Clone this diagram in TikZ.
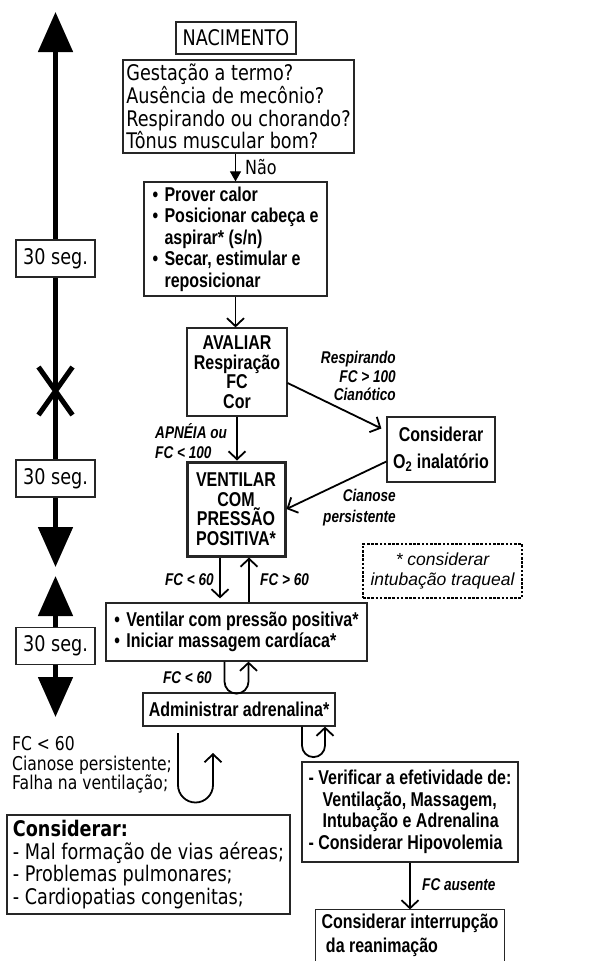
\documentclass[tikz,border=0pt]{standalone}
\usepackage{fontspec}
\newfontfamily\simples[FakeStretch=0.82]{DejaVu Sans}
\newfontfamily\estreita[FakeStretch=0.8]{Liberation Sans}
\newfontfamily\arial{Liberation Sans}
\usetikzlibrary{arrows.meta, positioning, calc}
\newcommand{\marca}{\makebox[12pt][l]{\textbullet}}
\newcommand{\recuo}{\hspace*{12pt}}
\tikzset{
  caixa/.style  = {draw=black!85, line width=1.2pt, inner sep=0pt, align=center,
                   font={\simples\fontsize{21.5}{22.7}\selectfont}},
  acao/.style   = {draw=black!85, line width=1.2pt, inner sep=0pt, align=center,
                   font={\estreita\bfseries\fontsize{20}{21.5}\selectfont}},
  rotulo/.style = {inner sep=0pt, font={\estreita\bfseries\itshape\fontsize{17}{18.5}\selectfont}},
  tempo/.style  = {caixa, fill=white, minimum width=79pt, minimum height=37pt},
  seta/.style   = {-{Straight Barb[length=8pt, width=17pt]}, line width=1.8pt},
  linhatempo/.style = {line width=5pt},
  pontaT/.style = {-{Triangle[length=40pt, width=34pt]}, line width=5pt},
}

\begin{document}
\begin{tikzpicture}[x=1pt, y=-1pt]
\useasboundingbox (0,0) rectangle (593,962);

%% ── main column ─────────────────────────────────────────────────────────────
\node[caixa, minimum width=120pt, minimum height=32pt] (nasc) at (236,38) {NACIMENTO};
\node[caixa, minimum width=231pt, minimum height=93pt, align=left] (quest) at (238.5,106.5)
  {Gestação a termo?\\Ausência de mecônio?\\Respirando ou chorando?\\Tônus muscular bom?};
\node[acao, minimum width=183pt, minimum height=114pt, align=left] (passos) at (235.5,239)
  {\marca Prover calor\\\marca Posicionar cabeça e\\\recuo aspirar* (s/n)\\\marca Secar, estimular e\\\recuo reposicionar};
\node[acao, minimum width=100pt, minimum height=88pt,
      font={\estreita\bfseries\fontsize{20}{19.5}\selectfont}] (avaliar) at (237,372)
  {AVALIAR\\Respiração\\FC\\Cor};
\node[acao, line width=3pt, minimum width=98pt, minimum height=94pt,
      font={\estreita\bfseries\fontsize{20}{19.5}\selectfont}] (ventilar) at (236,509)
  {VENTILAR\\COM\\PRESSÃO\\POSITIVA*};
\node[acao, minimum width=261pt, minimum height=58pt, align=left] (massagem) at (236.5,632)
  {\marca Ventilar com pressão positiva*\\\marca Iniciar massagem cardíaca*};
\node[acao, minimum width=192pt, minimum height=33pt] (adren) at (239,709.5) {Administrar adrenalina*};

%% ── right side ──────────────────────────────────────────────────────────────
\node[acao, minimum width=108pt, minimum height=65pt,
      font={\estreita\bfseries\fontsize{20}{27}\selectfont}] (oxig) at (441,449.5)
  {Considerar\\O\textsubscript{2} inalatório};
\node[draw=black, line width=2.8pt, dash pattern=on 2.6pt off 1.6pt, inner sep=0pt,
      minimum width=159pt, minimum height=54pt, align=center,
      font={\arial\itshape\fontsize{17.5}{20}\selectfont}] (nota) at (442.5,571)
  {* considerar\\intubação traqueal};
\node[acao, minimum width=216pt, minimum height=100pt, align=left] (verif) at (410,812)
  {- Verificar a efetividade de:\\\hspace*{14pt}Ventilação, Massagem,\\\hspace*{14pt}Intubação e Adrenalina\\- Considerar Hipovolemia};
\node[acao, draw=none, minimum width=188pt, minimum height=50pt, align=left,
      font={\estreita\bfseries\fontsize{20}{24}\selectfont}] (interr) at (410,935)
  {Considerar interrupção\\\ da reanimação};

%% ── left side ───────────────────────────────────────────────────────────────
\node[caixa, minimum width=283pt, minimum height=99pt, align=left] (considerar) at (148.5,864.5)
  {\textbf{Considerar:}\\- Mal formação de vias aéreas;\\- Problemas pulmonares;\\- Cardiopatias congenitas;};
\node[inner sep=0pt, anchor=north west, align=left,
      font={\simples\fontsize{19}{19.7}\selectfont}] (fctexto) at (12,736)
  {FC < 60\\Cianose persistente;\\Falha na ventilação;};

%% ── timeline ────────────────────────────────────────────────────────────────
\coordinate (topo)   at (55.5,12);
\coordinate (cruz)   at (55.5,391);
\coordinate (baixo1) at (55.5,567);
\coordinate (cima3)  at (55.5,576);
\coordinate (baixo3) at (55.5,717);
\draw[pontaT] (55.5,258.5) -- (topo);
\draw[linhatempo] (55.5,258.5) -- (cruz);
\draw[pontaT] (cruz) -- (baixo1);
\draw[pontaT] (55.5,646) -- (cima3);
\draw[pontaT] (55.5,646) -- (baixo3);
\draw[linhatempo] ($(cruz)+(-17,-24)$) -- ($(cruz)+(17,24)$)
                  ($(cruz)+(17,-24)$) -- ($(cruz)+(-17,24)$);
\node[tempo] (seg1) at (55.5,258.5) {30 seg.};
\node[tempo] (seg2) at (55.5,478.5) {30 seg.};
\node[tempo] (seg3) at (55.5,646)   {30 seg.};

%% ── arrows ──────────────────────────────────────────────────────────────────
\draw[-{Triangle[length=10pt, width=11pt]}, line width=1pt] (passos.north |- quest.south) -- (passos.north);
\draw[seta] (passos.south) -- (passos.south |- avaliar.north);
\draw[seta] (avaliar.south) -- (avaliar.south |- ventilar.north);
\draw[seta] ([yshift=-11pt]avaliar.east) -- ([xshift=-5pt, yshift=21pt]oxig.west);
\draw[seta] ([yshift=-12pt]oxig.west) -- (ventilar.east);
\draw[seta, shorten >=4pt] ([xshift=-16pt]ventilar.south) -- ([xshift=-16pt]ventilar.south |- massagem.north);
\draw[seta] ([xshift=13pt]ventilar.south |- massagem.north) -- ([xshift=13pt]ventilar.south);
\draw[seta] ([xshift=-12pt]massagem.south) -- ++(0,20)
  arc[start angle=180, end angle=360, radius=12pt] -- ([xshift=12pt]massagem.south);
\draw[seta] ([xshift=63pt]adren.south) -- ++(0,19)
  arc[start angle=180, end angle=360, radius=11.5pt] -- ([xshift=86pt]adren.south);
\coordinate (voltaA) at (178,733);
\coordinate (voltaB) at (213,753);
\draw[seta] (voltaA) -- ++(0,52) arc[start angle=180, end angle=360, radius=17.5pt] -- (voltaB);
\draw[seta] (verif.south) -- (interr.north);
\draw[draw=black!85, line width=1.2pt] (interr.south west) -- (interr.north west) -- (interr.north east) -- (interr.south east);

%% ── labels ──────────────────────────────────────────────────────────────────
\node[inner sep=0pt, anchor=west, font={\simples\fontsize{19.5}{20}\selectfont}] (nao) at (245,167) {Não};
\node[rotulo, anchor=east, align=right] (rresp) at (396,376) {Respirando\\FC > 100\\Cianótico};
\node[rotulo, anchor=east, align=right, font={\estreita\bfseries\itshape\fontsize{17}{21}\selectfont}] (rcian) at (396,508) {Cianose\\persistente};
\node[rotulo, anchor=west, align=left, font={\estreita\bfseries\itshape\fontsize{17}{20}\selectfont}] (rapn) at (155,441) {APNÉIA ou\\FC < 100};
\node[rotulo, anchor=east] (rmenos) at (214,580) {FC < 60};
\node[rotulo, anchor=west] (rmais) at (260,580) {FC > 60};
\node[rotulo, anchor=east] (rloop) at (212,678) {FC < 60};
\node[rotulo, anchor=west] (rausente) at (422,885) {FC ausente};

\end{tikzpicture}
\end{document}
